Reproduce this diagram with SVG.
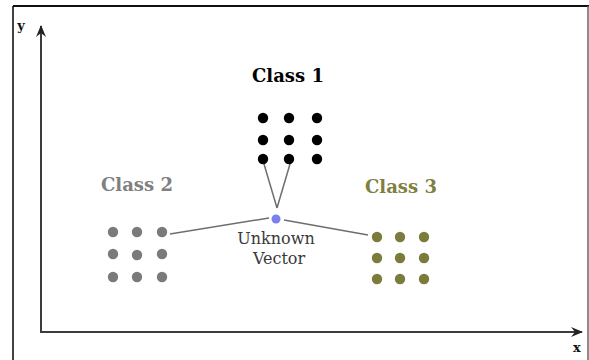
<svg xmlns="http://www.w3.org/2000/svg" width="589" height="360" viewBox="0 0 589 360">
<style>
.lbl{font-family:"DejaVu Serif","Liberation Serif",serif;font-weight:bold;font-size:18px;text-anchor:middle}
.uv{font-family:"DejaVu Serif","Liberation Serif",serif;font-size:16px;text-anchor:middle;fill:#3a3a3a}
.ax{font-family:"DejaVu Serif","Liberation Serif",serif;font-weight:bold;font-size:13px;text-anchor:middle;fill:#111}
.conn{stroke:#6e6e6e;stroke-width:1.5;fill:none}
.axis{stroke:#3c3c3c;stroke-width:2;fill:none}
.c1{fill:#000}
.c2{fill:#7a7a7a}
.c3{fill:#7b7b3b}
</style>
<defs>
<marker id="arr" viewBox="0 0 12 10" refX="11" refY="5" markerWidth="12" markerHeight="10" markerUnits="userSpaceOnUse" orient="auto">
<path d="M0,0 L12,5 L0,10 L4,5 Z" fill="#222"/>
</marker>
</defs>
<rect x="0" y="0" width="589" height="360" fill="#fff"/>
<g id="frame">
<line x1="13" y1="6" x2="13" y2="360" stroke="#111" stroke-width="1.6"/>
<line x1="13" y1="6" x2="589" y2="6" stroke="#111" stroke-width="2"/>
<line x1="588" y1="6" x2="588" y2="360" stroke="#666" stroke-width="1.5"/>
</g>
<g id="axes">
<path class="axis" d="M41,332 V26" marker-end="url(#arr)"/>
<path class="axis" d="M40,332 H582" marker-end="url(#arr)"/>
<text class="ax" x="21" y="30">y</text>
<text class="ax" x="577" y="352">x</text>
</g>
<g id="connectors">
<line class="conn" x1="264" y1="164" x2="277" y2="208"/>
<line class="conn" x1="290" y1="164" x2="277" y2="208"/>
<line class="conn" x1="170" y1="234" x2="269" y2="218"/>
<line class="conn" x1="284" y1="220" x2="368" y2="235"/>
</g>
<g id="class1">
<text class="lbl" x="288" y="82" fill="#000">Class 1</text>
<circle class="c1" cx="263" cy="118" r="5.2"/><circle class="c1" cx="289" cy="118" r="5.2"/><circle class="c1" cx="317" cy="118" r="5.2"/>
<circle class="c1" cx="263" cy="140" r="5.2"/><circle class="c1" cx="289" cy="140" r="5.2"/><circle class="c1" cx="317" cy="140" r="5.2"/>
<circle class="c1" cx="263" cy="159" r="5.2"/><circle class="c1" cx="289" cy="159" r="5.2"/><circle class="c1" cx="317" cy="159" r="5.2"/>
</g>
<g id="class2">
<text class="lbl" x="137" y="191" fill="#808080">Class 2</text>
<circle class="c2" cx="113" cy="232" r="5.2"/><circle class="c2" cx="137" cy="232" r="5.2"/><circle class="c2" cx="162" cy="232" r="5.2"/>
<circle class="c2" cx="113" cy="254" r="5.2"/><circle class="c2" cx="137" cy="255" r="5.2"/><circle class="c2" cx="162" cy="254" r="5.2"/>
<circle class="c2" cx="113" cy="277" r="5.2"/><circle class="c2" cx="137" cy="277" r="5.2"/><circle class="c2" cx="162" cy="277" r="5.2"/>
</g>
<g id="class3">
<text class="lbl" x="401" y="193" fill="#7f7f3f">Class 3</text>
<circle class="c3" cx="377" cy="237" r="5.2"/><circle class="c3" cx="400" cy="237" r="5.2"/><circle class="c3" cx="424" cy="237" r="5.2"/>
<circle class="c3" cx="377" cy="258" r="5.2"/><circle class="c3" cx="400" cy="258" r="5.2"/><circle class="c3" cx="424" cy="258" r="5.2"/>
<circle class="c3" cx="377" cy="279" r="5.2"/><circle class="c3" cx="400" cy="279" r="5.2"/><circle class="c3" cx="424" cy="279" r="5.2"/>
</g>
<g id="unknown">
<circle cx="276" cy="219" r="4.5" fill="#7b80f0"/>
<text class="uv" x="276" y="244">Unknown</text>
<text class="uv" x="279" y="264">Vector</text>
</g>
</svg>
